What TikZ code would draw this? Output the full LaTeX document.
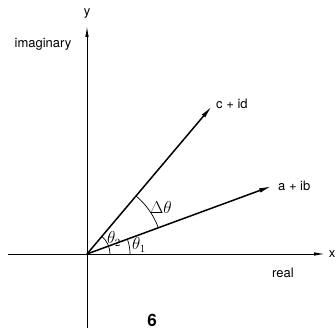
\documentclass[tikz,border=0pt]{standalone}
\usepackage{fontspec}
\setmainfont{TeX Gyre Heros}
\usetikzlibrary{arrows.meta}
\begin{document}
\begin{tikzpicture}[x=1pt,y=1pt,
    lbl/.style={inner sep=1pt, font=\fontsize{13}{15}\selectfont},
    mlbl/.style={inner sep=1pt, font=\fontsize{16}{18}\selectfont},
    axis/.style={line width=0.9pt, -{Latex[length=11pt,width=3.5pt]}},
    vec/.style={line width=1.5pt, -{Latex[length=13pt,width=4.5pt]}},
    ang/.style={line width=0.7pt}]
                \useasboundingbox (-87,-80) rectangle (249,254);
                % nodes
                \coordinate (o) at (0,0);
                \coordinate (xl) at (-79,0);
                \coordinate (xr) at (238,0);
                \coordinate (yb) at (0,-74);
                \coordinate (yt) at (0,228);
                \coordinate (cd) at (125,148);
                \coordinate (ab) at (185,68);
                \node[lbl] (y) at (0,240) {y};
                \node[lbl] (x) at (245,0) {x};
                \node[lbl] (imag) at (-44,210) {imaginary};
                \node[lbl] (real) at (196,-19) {real};
                \node[lbl, anchor=west] (cdlbl) at (128,150) {c + id};
                \node[lbl, anchor=west] (ablbl) at (190,68) {a + ib};
                \node[mlbl] (dth) at (74,47) {$\Delta\theta$};
                \node[mlbl] (th2) at (27,15) {$\theta_2$};
                \node[mlbl] (th1) at (52,9) {$\theta_1$};
                \node[font=\bfseries\fontsize{17}{18}\selectfont] (six) at (65,-66) {6};
                % edges
                \draw[line width=0.9pt] (xl) -- (o);
                \draw[axis] (o) -- (xr);
                \draw[line width=0.9pt] (yb) -- (o);
                \draw[axis] (o) -- (yt);
                \draw[vec] (o) -- (cd);
                \draw[vec] (o) -- (ab);
                % angles
                \draw[ang] (o) ++(20:76) arc[start angle=20, end angle=50, radius=76];
                \draw[ang] (o) ++(0:23) arc[start angle=0, end angle=50, radius=23];
                \draw[ang] (o) ++(0:43) arc[start angle=0, end angle=20, radius=43];
            \end{tikzpicture}
\end{document}
